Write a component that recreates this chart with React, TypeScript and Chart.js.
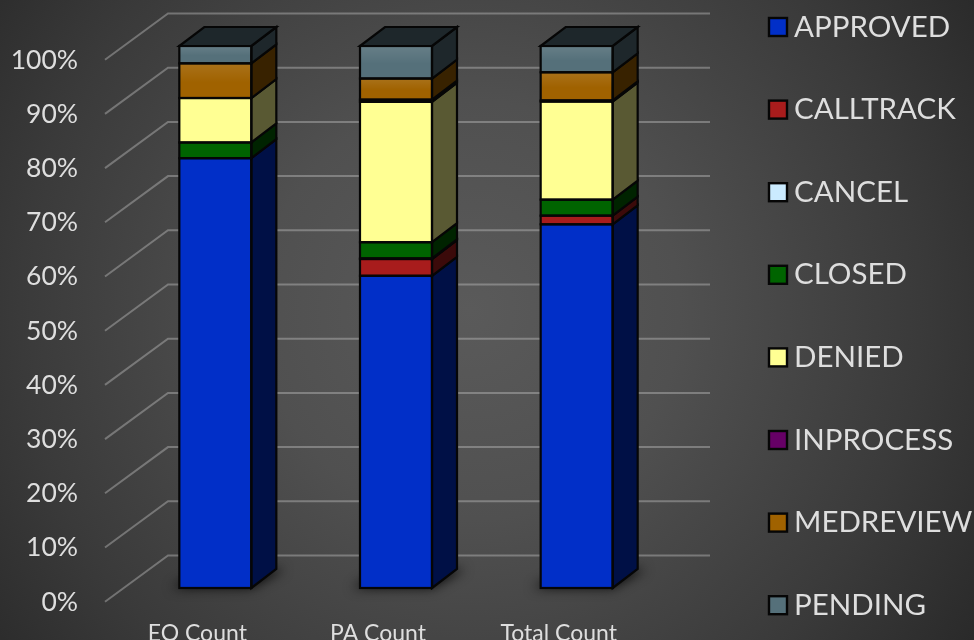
import React, { useEffect, useRef } from "react";
import { Chart, registerables } from "chart.js";

Chart.register(...registerables);

const categories = ["EO Count", "PA Count", "Total Count"];
const yTicks = [0, 10, 20, 30, 40, 50, 60, 70, 80, 90, 100];

const approved = [79.3, 57.6, 67.1];
const calltrack = [0, 3.1, 1.6];
const cancel = [0, 0.1, 0];
const closed = [2.9, 3.0, 2.95];
const denied = [8.2, 25.9, 18.1];
const inprocess = [0, 0.4, 0.2];
const medreview = [6.4, 3.9, 5.2];
const pending = [3.2, 6.0, 4.85];

const seriesNames = ["APPROVED", "CALLTRACK", "CANCEL", "CLOSED", "DENIED", "INPROCESS", "MEDREVIEW", "PENDING"];
const seriesValues = [approved, calltrack, cancel, closed, denied, inprocess, medreview, pending];
const seriesColors = ["#012FC8", "#A81C1C", "#CBEBFF", "#006400", "#FFFF93", "#660066", "#A06200", "#55707A"];
const sheenSeries = ["MEDREVIEW", "PENDING"];

const FONT = "Lato, 'Open Sans', sans-serif";
const TEXT = "#dedede";

// 3-D look of the plot
const BAR_DX = 25;
const BAR_DY = 19;
const WALL_DX = 63;
const WALL_FRONT_X = 105;
const WALL_FRONT_DY = 13.7;
const WALL_BACK_DY = -32.5;

function shade(hex: string, f: number) {
  const n = parseInt(hex.slice(1), 16);
  const r = Math.round(((n >> 16) & 255) * f);
  const g = Math.round(((n >> 8) & 255) * f);
  const b = Math.round((n & 255) * f);
  return `rgb(${r},${g},${b})`;
}

const backgroundPlugin = {
  id: "slideBackground",
  beforeDraw(chart: any) {
    const { ctx, width, height } = chart;
    const g = ctx.createRadialGradient(470, 310, 0, 470, 310, 600);
    g.addColorStop(0, "#5a5a5a");
    g.addColorStop(0.35, "#505050");
    g.addColorStop(0.75, "#3a3a3a");
    g.addColorStop(1, "#2a2a2a");
    ctx.save();
    ctx.fillStyle = g;
    ctx.fillRect(0, 0, width, height);
    ctx.restore();
  },
};

const wallPlugin = {
  id: "wallGrid",
  beforeDatasetsDraw(chart: any) {
    const { ctx, scales } = chart;
    const y = scales.y;
    const backLeft = WALL_FRONT_X + WALL_DX;
    const backRight = chart.chartArea.right + WALL_DX - 20;
    ctx.save();
    ctx.strokeStyle = "rgba(200,200,200,0.4)";
    ctx.lineWidth = 2;
    yTicks.forEach((t) => {
      const py = y.getPixelForValue(t);
      ctx.beginPath();
      ctx.moveTo(WALL_FRONT_X, py + WALL_FRONT_DY);
      ctx.lineTo(backLeft, py + WALL_BACK_DY);
      ctx.lineTo(backRight, py + WALL_BACK_DY);
      ctx.stroke();
    });
    // soft shadows on the floor: only the blurred shadow of an off-canvas shape is seen
    const first = chart.getDatasetMeta(0).data;
    const away = 3000;
    first.forEach((el: any) => {
      const l = el.x - el.width / 2;
      const r = el.x + el.width / 2;
      const b = el.base;
      ctx.save();
      ctx.shadowColor = "rgba(0,0,0,0.85)";
      ctx.shadowBlur = 12;
      ctx.shadowOffsetX = away;
      ctx.fillStyle = "#000";
      ctx.beginPath();
      ctx.moveTo(l - 8 - away, b);
      ctx.lineTo(r - away, b);
      ctx.lineTo(r + BAR_DX + 8 - away, b - BAR_DY);
      ctx.lineTo(l + BAR_DX - away, b - BAR_DY);
      ctx.closePath();
      ctx.fill();
      ctx.restore();
    });
    ctx.restore();
  },
};

const boxPlugin = {
  id: "box3d",
  afterDatasetsDraw(chart: any) {
    const { ctx } = chart;
    ctx.save();
    ctx.strokeStyle = "#060606";
    ctx.lineWidth = 2.2;
    ctx.lineJoin = "miter";
    const n = chart.data.labels.length;
    for (let j = 0; j < n; j++) {
      let topEl: any = null;
      let topColor = "";
      chart.data.datasets.forEach((ds: any, i: number) => {
        const el = chart.getDatasetMeta(i).data[j];
        if (!el) return;
        const yTop = Math.min(el.y, el.base);
        const yBot = Math.max(el.y, el.base);
        if (yBot - yTop < 0.01) return;
        const l = el.x - el.width / 2;
        const r = el.x + el.width / 2;
        ctx.fillStyle = shade(ds.backgroundColor, 0.35);
        ctx.beginPath();
        ctx.moveTo(r, yBot);
        ctx.lineTo(r + BAR_DX, yBot - BAR_DY);
        ctx.lineTo(r + BAR_DX, yTop - BAR_DY);
        ctx.lineTo(r, yTop);
        ctx.closePath();
        ctx.fill();
        ctx.stroke();
        if (sheenSeries.includes(ds.label)) {
          const g = ctx.createLinearGradient(0, yTop, 0, yBot);
          g.addColorStop(0, "rgba(255,255,255,0.1)");
          g.addColorStop(0.55, "rgba(255,255,255,0)");
          ctx.fillStyle = g;
          ctx.fillRect(l, yTop, r - l, yBot - yTop);
        }
        ctx.strokeRect(l, yTop, r - l, yBot - yTop);
        topEl = { l, r, yTop };
        topColor = ds.backgroundColor;
      });
      if (topEl) {
        ctx.fillStyle = shade(topColor, 0.35);
        ctx.beginPath();
        ctx.moveTo(topEl.l, topEl.yTop);
        ctx.lineTo(topEl.l + BAR_DX, topEl.yTop - BAR_DY);
        ctx.lineTo(topEl.r + BAR_DX, topEl.yTop - BAR_DY);
        ctx.lineTo(topEl.r, topEl.yTop);
        ctx.closePath();
        ctx.fill();
        ctx.stroke();
      }
    }
    ctx.restore();
  },
};

const legendPlugin = {
  id: "spacedLegend",
  afterDraw(chart: any) {
    const { ctx } = chart;
    const startY = 27;
    const stepY = 82.6;
    ctx.save();
    ctx.font = `29.5px ${FONT}`;
    ctx.textBaseline = "middle";
    ctx.textAlign = "left";
    chart.data.datasets.forEach((ds: any, i: number) => {
      const cy = startY + i * stepY;
      ctx.fillStyle = ds.backgroundColor;
      ctx.strokeStyle = "#060606";
      ctx.lineWidth = 2.4;
      ctx.fillRect(769, cy - 9, 18, 18);
      ctx.strokeRect(769, cy - 9, 18, 18);
      ctx.fillStyle = TEXT;
      ctx.fillText(ds.label, 794, cy);
    });
    ctx.restore();
  },
};

export default function App() {
  const ref = useRef<HTMLCanvasElement | null>(null);
  useEffect(() => {
    if (!ref.current) return;
    const chart = new Chart(ref.current, {
      type: "bar",
      data: {
        labels: categories,
        datasets: seriesNames.map((name, i) => ({
          label: name,
          data: seriesValues[i],
          backgroundColor: seriesColors[i],
          borderWidth: 0,
          barThickness: 72,
          clip: false as any,
        })),
      },
      options: {
        animation: false,
        responsive: false,
        devicePixelRatio: 1,
        layout: { padding: { left: 0, right: 307, top: 46, bottom: 0 } },
        plugins: { legend: { display: false }, title: { display: false }, tooltip: { enabled: false } },
        scales: {
          x: {
            stacked: true,
            grid: { display: false },
            border: { display: false },
            afterFit: (s: any) => { s.height = 52; s.paddingLeft = 0; s.paddingRight = 0; },
            ticks: {
              color: TEXT,
              font: { family: FONT, size: 23 },
              padding: 24,
              labelOffset: -18,
              maxRotation: 0,
              autoSkip: false,
            },
          },
          y: {
            stacked: true,
            min: 0,
            max: 100,
            grid: { display: false },
            border: { display: false },
            afterFit: (s: any) => { s.width = 125; s.paddingTop = 0; s.paddingBottom = 0; },
            ticks: {
              stepSize: 10,
              color: TEXT,
              font: { family: FONT, size: 26.5 },
              padding: 39,
              labelOffset: 14,
              autoSkip: false,
              callback: (v: any) => `${v}%`,
            },
          },
        },
      },
      plugins: [backgroundPlugin, wallPlugin, boxPlugin, legendPlugin],
    });
    return () => chart.destroy();
  }, []);
  return (
    <div style={{ position: "fixed", left: 0, top: 0, width: 974, height: 640 }}>
      <canvas ref={ref} width={974} height={640} style={{ display: "block", width: 974, height: 640 }} />
    </div>
  );
}
